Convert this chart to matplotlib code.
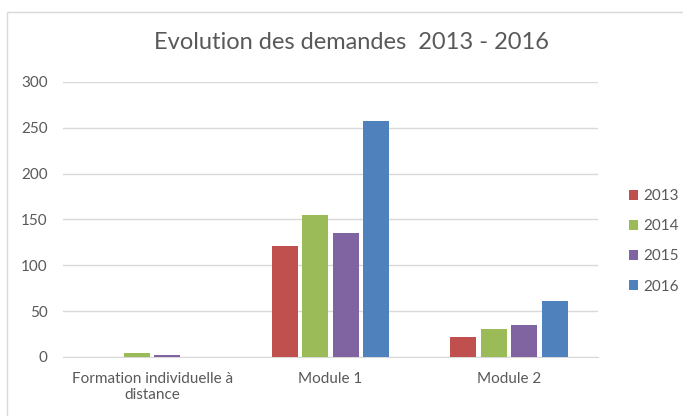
import numpy as np
import matplotlib
matplotlib.use('Agg')
import matplotlib.pyplot as plt
import matplotlib.patches as mpatches

plt.rcParams['font.family'] = ['Lato', 'DejaVu Sans']

categories = ['Formation individuelle à\ndistance', 'Module 1', 'Module 2']
years = ['2013', '2014', '2015', '2016']
v2013 = [0, 121, 22]
v2014 = [4, 155, 31]
v2015 = [2, 135, 35]
v2016 = [0, 257, 61]
colors = ['#C0504D', '#9BBB59', '#8064A2', '#4F81BD']
text_grey = '#595959'

fig = plt.figure(figsize=(6.83, 4.16), dpi=100)
ax = fig.add_axes([0.092, 0.142, 0.784, 0.661])

# chart border
fig.patches.append(mpatches.Rectangle((7 / 683, -0.1), 1.2, 1 - 12 / 416 + 0.1,
                                      transform=fig.transFigure, fill=False,
                                      edgecolor='#D9D9D9', linewidth=1))

x = np.arange(len(categories))
step = 0.171
width = 0.146
series = [v2013, v2014, v2015, v2016]
for i, vals in enumerate(series):
    ax.bar(x + (i - 1.5) * step, vals, width, color=colors[i], label=years[i], zorder=3)

ax.set_xlim(-0.5, 2.5)
ax.set_ylim(0, 300)
ax.set_yticks(range(0, 301, 50))
ax.grid(axis='y', color='#D9D9D9', linewidth=1, zorder=0)
for s in ['top', 'right', 'left']:
    ax.spines[s].set_visible(False)
ax.spines['bottom'].set_color('#D9D9D9')
ax.tick_params(axis='both', length=0, colors=text_grey, labelsize=11)
ax.tick_params(axis='x', pad=11)
ax.tick_params(axis='y', pad=11)
ax.set_xticks(x)
ax.set_xticklabels(categories, linespacing=1.15, multialignment='center')

fig.text(0.515, 0.899, 'Evolution des demandes  2013 - 2016', ha='center', va='center',
         fontsize=17, color=text_grey)

ax.legend(loc='center left', bbox_to_anchor=(1.045, 0.42), frameon=False, fontsize=11,
          labelcolor=text_grey, handlelength=0.65, handleheight=0.65, handletextpad=0.3,
          labelspacing=1.05, borderaxespad=0)

fig.savefig('out.png', dpi=100)
